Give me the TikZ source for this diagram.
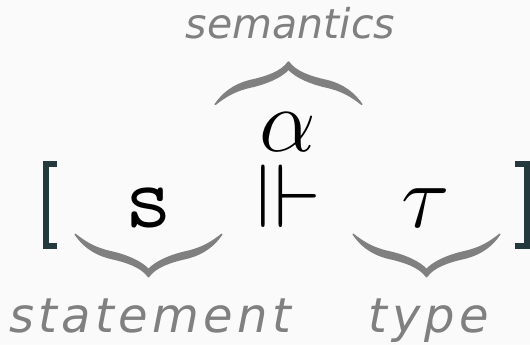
\documentclass[tikz,border=0pt]{standalone}
\usepackage{amssymb}
\usepackage{fontspec}
\usepackage{tikz}
\newfontfamily\lblfont{DejaVu Sans}
\newfontfamily\lblwidefont{DejaVu Sans}[LetterSpace=9]
\definecolor{fmInk}{HTML}{24393D}
\definecolor{fmGray}{HTML}{808080}
\definecolor{fmBg}{HTML}{FAFAFA}
\tikzset{
  % Symbol sitting on the formula baseline
  sym/.style={inner sep=0pt,anchor=base,font=\huge},
  % Grey italic annotation (wide)
  lbl/.style={inner sep=0pt,anchor=base,text=fmGray,
    font=\lblwidefont\itshape\fontsize{11.06}{13}\selectfont},
  % Grey italic annotation (tight, above)
  lbltop/.style={inner sep=0pt,anchor=base,text=fmGray,
    font=\lblfont\itshape\fontsize{9.45}{11}\selectfont},
  % Square bracket
  brk/.style={draw=fmInk,line width=1.38pt},
  % Tapered brace, tip at the origin, arms upwards
  tbrace/.pic={
    \filldraw[fmGray,line width=0.35pt,line join=round]
      (-73.3,-42.4) .. controls (-66,-32) and (-56,-23) .. (-38,-18.5)
      .. controls (-22,-15) and (-7,-10) .. (0,0)
      .. controls (7,-10) and (22,-15) .. (38,-18.5)
      .. controls (56,-23) and (66,-32) .. (73.3,-42.4)
      .. controls (64,-35) and (54,-28.5) .. (38,-25)
      .. controls (20,-21) and (6,-14) .. (0,-7)
      .. controls (-6,-14) and (-20,-21) .. (-38,-25)
      .. controls (-54,-28.5) and (-64,-35) .. (-73.3,-42.4) -- cycle;
  },
}
\begin{document}
\begin{tikzpicture}[x=0.2304pt,y=-0.2304pt]
  \fill[fmBg] (0,0) rectangle (530,345);
  \useasboundingbox (0,0) rectangle (530,345);

  % Formula
  \node[sym] (stmt) at (148.5,227) {$\mathtt{s}$};
  \node[sym,text height=0.66em] (turn) at (289,227) {$\Vdash$};
  \node[sym,text depth=0pt] (sem) at (288,151) {$\alpha$};
  \node[sym] (typ) at (426,227) {$\tau$};

  % Brackets
  \draw[brk] (56.7,164) -- (45.7,164) -- (45.7,245.5) -- (56.7,245.5);
  \draw[brk] (515,164) -- (527.3,164) -- (527.3,245.5) -- (515,245.5);

  % Braces
  \pic at (148.5,276.7) {tbrace};
  \pic[yscale=-1] at (288.5,62) {tbrace};
  \pic at (426.5,276.7) {tbrace};

  % Annotations
  \node[lbltop] (semlbl) at (290.5,38) {semantics};
  \node[lbl] (stmtlbl) at (150,332) {statement};
  \node[lbl] (typlbl) at (429,332) {type};
\end{tikzpicture}
\end{document}
